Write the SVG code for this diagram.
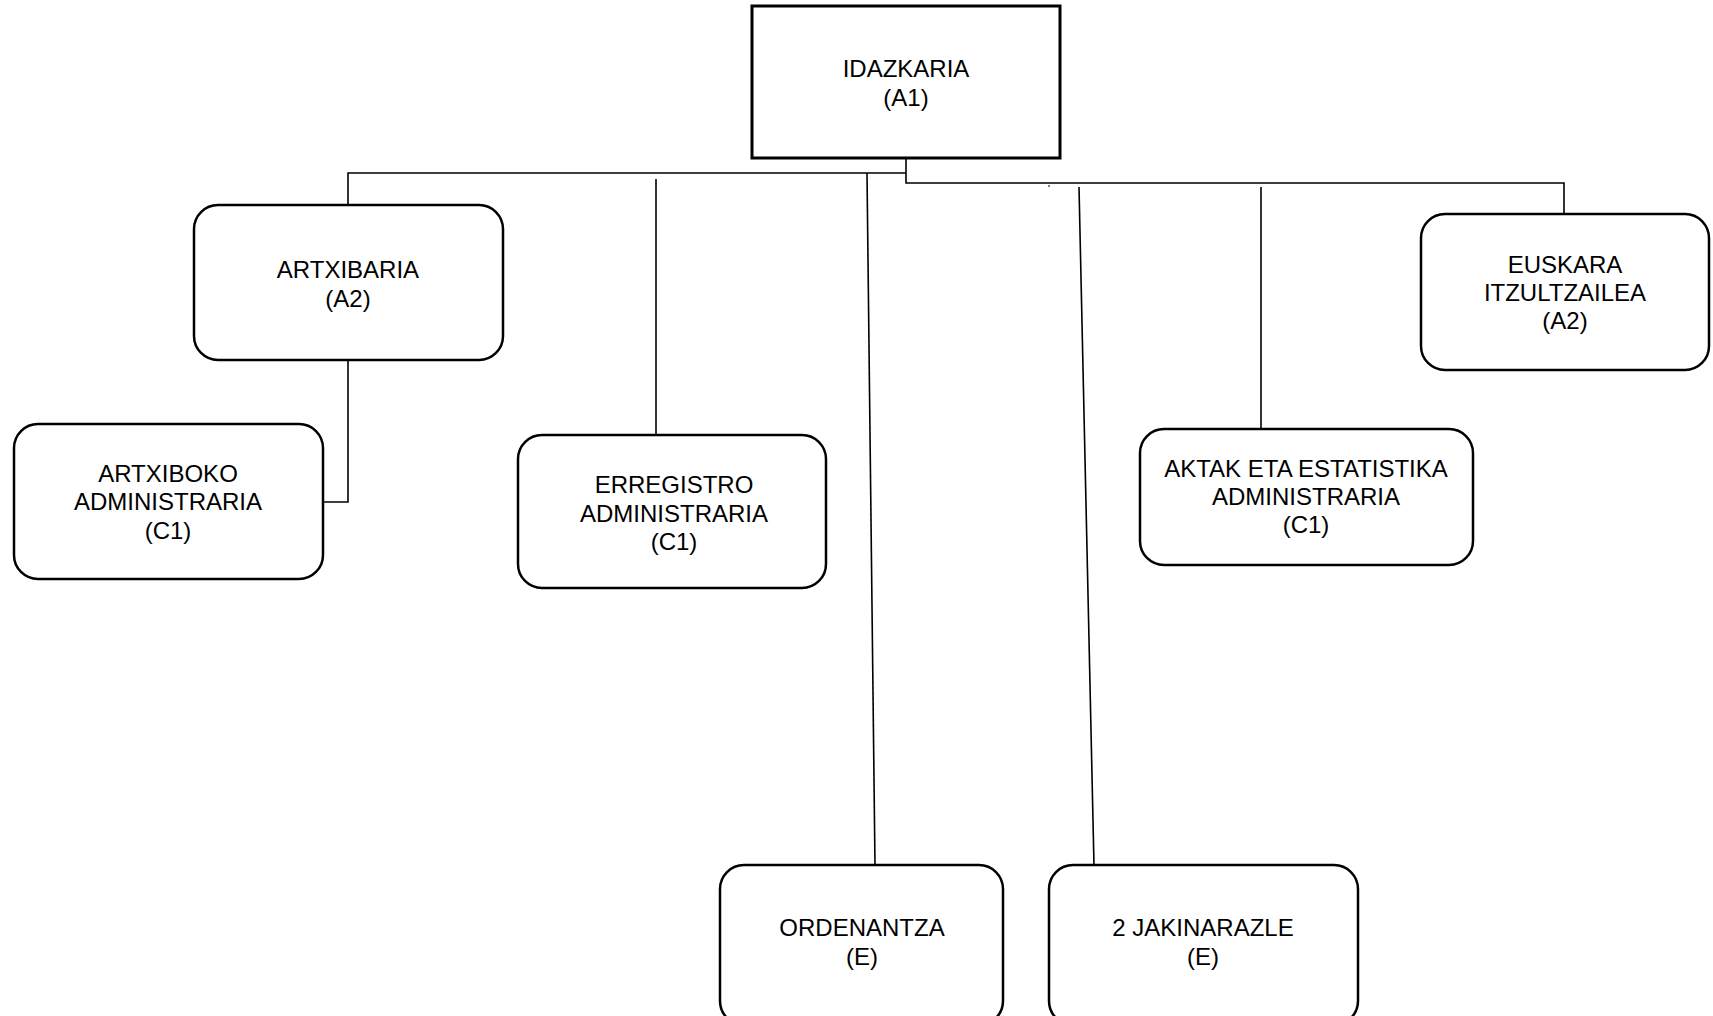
<svg xmlns="http://www.w3.org/2000/svg" width="1713" height="1016" viewBox="0 0 1713 1016">
<style>
.box{fill:#fff;stroke:#000;stroke-width:2.5}
.top{fill:#fff;stroke:#000;stroke-width:3}
.ln{fill:none;stroke:#000;stroke-width:1.6}
text{font-family:"Liberation Sans",Arial,sans-serif;font-size:24px;fill:#000;text-anchor:middle}
</style>
<rect width="1713" height="1016" fill="#fff"/>
<g id="connectors">
<polyline class="ln" points="348,205 348,173 906,173"/>
<polyline class="ln" points="906,158 906,183 1564,183 1564,214"/>
<polyline class="ln" points="348,360 348,502 322,502"/>
<line class="ln" x1="656" y1="179" x2="656" y2="435"/>
<line class="ln" x1="867" y1="173" x2="875" y2="866"/>
<line class="ln" x1="1079" y1="187" x2="1094" y2="866"/>
<line class="ln" x1="1261" y1="187" x2="1261" y2="429"/>
<line x1="1049" y1="185" x2="1049" y2="187" stroke="#000" stroke-width="1"/>
</g>
<g id="idazkaria">
<rect class="top" x="752" y="6" width="308" height="152"/>
<text x="906" y="77">IDAZKARIA</text>
<text x="906" y="106">(A1)</text>
</g>
<g id="artxibaria">
<rect class="box" x="194" y="205" width="309" height="155" rx="24"/>
<text x="348" y="278">ARTXIBARIA</text>
<text x="348" y="307">(A2)</text>
</g>
<g id="artxiboko">
<rect class="box" x="14" y="424" width="309" height="155" rx="24"/>
<text x="168" y="482">ARTXIBOKO</text>
<text x="168" y="510">ADMINISTRARIA</text>
<text x="168" y="539">(C1)</text>
</g>
<g id="erregistro">
<rect class="box" x="518" y="435" width="308" height="153" rx="24"/>
<text x="674" y="493">ERREGISTRO</text>
<text x="674" y="522">ADMINISTRARIA</text>
<text x="674" y="550">(C1)</text>
</g>
<g id="aktak">
<rect class="box" x="1140" y="429" width="333" height="136" rx="24"/>
<text x="1306" y="477">AKTAK ETA ESTATISTIKA</text>
<text x="1306" y="505">ADMINISTRARIA</text>
<text x="1306" y="533">(C1)</text>
</g>
<g id="euskara">
<rect class="box" x="1421" y="214" width="288" height="156" rx="24"/>
<text x="1565" y="273">EUSKARA</text>
<text x="1565" y="301">ITZULTZAILEA</text>
<text x="1565" y="329">(A2)</text>
</g>
<g id="ordenantza">
<rect class="box" x="720" y="865" width="283" height="160" rx="24"/>
<text x="862" y="936">ORDENANTZA</text>
<text x="862" y="965">(E)</text>
</g>
<g id="jakinarazle">
<rect class="box" x="1049" y="865" width="309" height="160" rx="24"/>
<text x="1203" y="936">2 JAKINARAZLE</text>
<text x="1203" y="965">(E)</text>
</g>
</svg>
